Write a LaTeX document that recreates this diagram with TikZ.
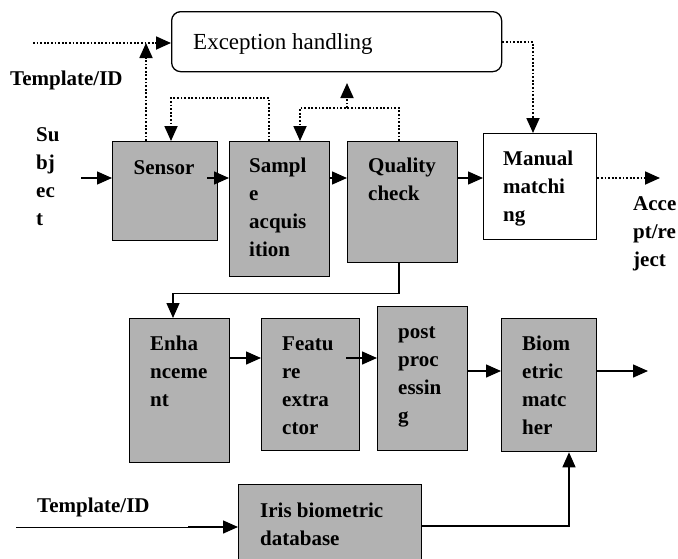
\documentclass[tikz,border=0pt]{standalone}
\usepackage{fontspec}
\setmainfont{Liberation Serif}
\usetikzlibrary{arrows.meta,calc}
\definecolor{boxgray}{RGB}{178,178,178}
\newcommand\lstrut{\rule[-7pt]{0pt}{28pt}}
\begin{document}
\begin{tikzpicture}[x=1pt,y=-1pt,
  gbox/.style={draw=black,line width=1.3pt,fill=boxgray,anchor=north west,inner sep=0pt},
  wbox/.style={draw=black,line width=1.3pt,fill=white,anchor=north west,inner sep=0pt},
  lbl/.style={font=\fontsize{21}{28}\selectfont\bfseries,inner sep=0pt,anchor=north west,align=left},
  slbl/.style={font=\fontsize{21}{28}\selectfont\bfseries,inner sep=0pt},
  con/.style={line width=1.4pt,-{Triangle[length=15pt,width=13pt]}},
  dcon/.style={line width=1.8pt,dash pattern=on 1.8pt off 1.8pt,-{Triangle[length=15pt,width=13pt]}},
  dline/.style={line width=1.8pt,dash pattern=on 1.8pt off 1.8pt}]
\clip (0,0) rectangle (678,558);
\fill[white] (0,0) rectangle (678,558);

% boxes
\node[wbox,rounded corners=9pt,minimum width=330pt,minimum height=60pt] (exc) at (171,11) {};
\node[gbox,minimum width=105pt,minimum height=99pt] (sensor) at (112,141) {};
\node[gbox,minimum width=100pt,minimum height=135pt] (sample) at (229,141) {};
\node[gbox,minimum width=110pt,minimum height=121pt] (quality) at (347,141) {};
\node[wbox,minimum width=113pt,minimum height=106pt] (manual) at (483,133) {};
\node[gbox,minimum width=100pt,minimum height=144pt] (enh) at (129,318) {};
\node[gbox,minimum width=98pt,minimum height=132pt] (feat) at (261,318) {};
\node[gbox,minimum width=90pt,minimum height=144pt] (post) at (377,306) {};
\node[gbox,minimum width=95pt,minimum height=133pt] (bio) at (501,318) {};
\node[gbox,minimum width=183pt,minimum height=100pt] (iris) at (238,484) {};

% labels
\node[inner sep=0pt,anchor=base west,font=\fontsize{23}{28}\selectfont] (exctxt) at (193,49) {Exception handling};
\node[slbl,anchor=base] (sensortxt) at (164,174) {Sensor};
\node[lbl] (sampletxt) at (249,151) {\lstrut Sampl\\\lstrut e\\\lstrut acquis\\\lstrut ition};
\node[lbl] (qualitytxt) at (368,151) {\lstrut Quality\\\lstrut check};
\node[lbl] (manualtxt) at (503,144) {\lstrut Manual\\\lstrut matchi\\\lstrut ng};
\node[lbl] (accepttxt) at (633,189) {\lstrut Acce\\\lstrut pt/re\\\lstrut ject};
\node[lbl] (subjtxt) at (36,120) {\lstrut Su\\\lstrut bj\\\lstrut ec\\\lstrut t};
\node[lbl] (enhtxt) at (150,329) {\lstrut Enha\\\lstrut nceme\\\lstrut nt};
\node[lbl] (feattxt) at (282,329) {\lstrut Featu\\\lstrut re\\\lstrut extra\\\lstrut ctor};
\node[lbl] (posttxt) at (398,317) {\lstrut post\\\lstrut proc\\\lstrut essin\\\lstrut g};
\node[lbl] (biotxt) at (522,329) {\lstrut Biom\\\lstrut etric\\\lstrut matc\\\lstrut her};
\node[lbl] (iristxt) at (260,496) {\lstrut Iris biometric\\\lstrut database};
\node[slbl,anchor=base west] (tmpl1) at (10,85) {Template/ID};
\node[slbl,anchor=base west] (tmpl2) at (37,512) {Template/ID};

% free ends
\coordinate (tin) at (33,43);
\coordinate (sup) at (146,43);
\coordinate (qup) at (347,83);
\coordinate (subjin) at (81,178);
\coordinate (accout) at (660,178);
\coordinate (bioout) at (648,371);
\coordinate (tin2) at (16,527);
\coordinate (tmid) at (188,527);

% dotted connectors
\draw[dcon] (tin) -- (exc.west |- tin);
\draw[dcon] ($(sensor.north west)+(34,0)$) -- (sup);
\draw[dcon] ($(sample.north west)+(40,0)$) -- ++(0,-43) -| ($(sensor.north west)+(59,0)$);
\draw[dcon] ($(quality.north west)+(52,0)$) -- ++(0,-33) -| ($(sample.north west)+(71,0)$);
\draw[dcon] ($(quality.north west)+(0,-33)$) -- (qup);
\draw[dcon] ($(exc.north east)+(0,31)$) -| ($(manual.north west)+(50,0)$);
\draw[dcon] ($(manual.north east)+(0,45)$) -- (accout);

% solid connectors
\draw[con] (subjin) -- ($(sensor.north west)+(0,37)$);
\draw[con] ($(sensor.north west)+(95,37)$) -- ($(sample.north west)+(0,37)$);
\draw[con] ($(sample.north east)+(0,37)$) -- ($(quality.north west)+(0,37)$);
\draw[con] ($(quality.north east)+(0,37)$) -- ($(manual.north west)+(0,45)$);
\draw[con] ($(quality.south west)+(52,0)$) -- ++(0,30) -| ($(enh.north west)+(44,0)$);
\draw[con] ($(enh.north west)+(100,40)$) -- ($(feat.north west)+(0,40)$);
\draw[con] ($(feat.north west)+(85,40)$) -- ($(post.north west)+(0,52)$);
\draw[con] ($(post.north east)+(0,65)$) -- ($(bio.north west)+(0,53)$);
\draw[con] ($(bio.north east)+(0,53)$) -- (bioout);
\draw[line width=0.8pt] (tin2) -- (tmid);
\draw[con] (tmid) -- ($(iris.north west)+(0,43)$);
\draw[con] ($(iris.north east)+(0,42)$) -| ($(bio.south west)+(68,0)$);
\end{tikzpicture}
\end{document}
